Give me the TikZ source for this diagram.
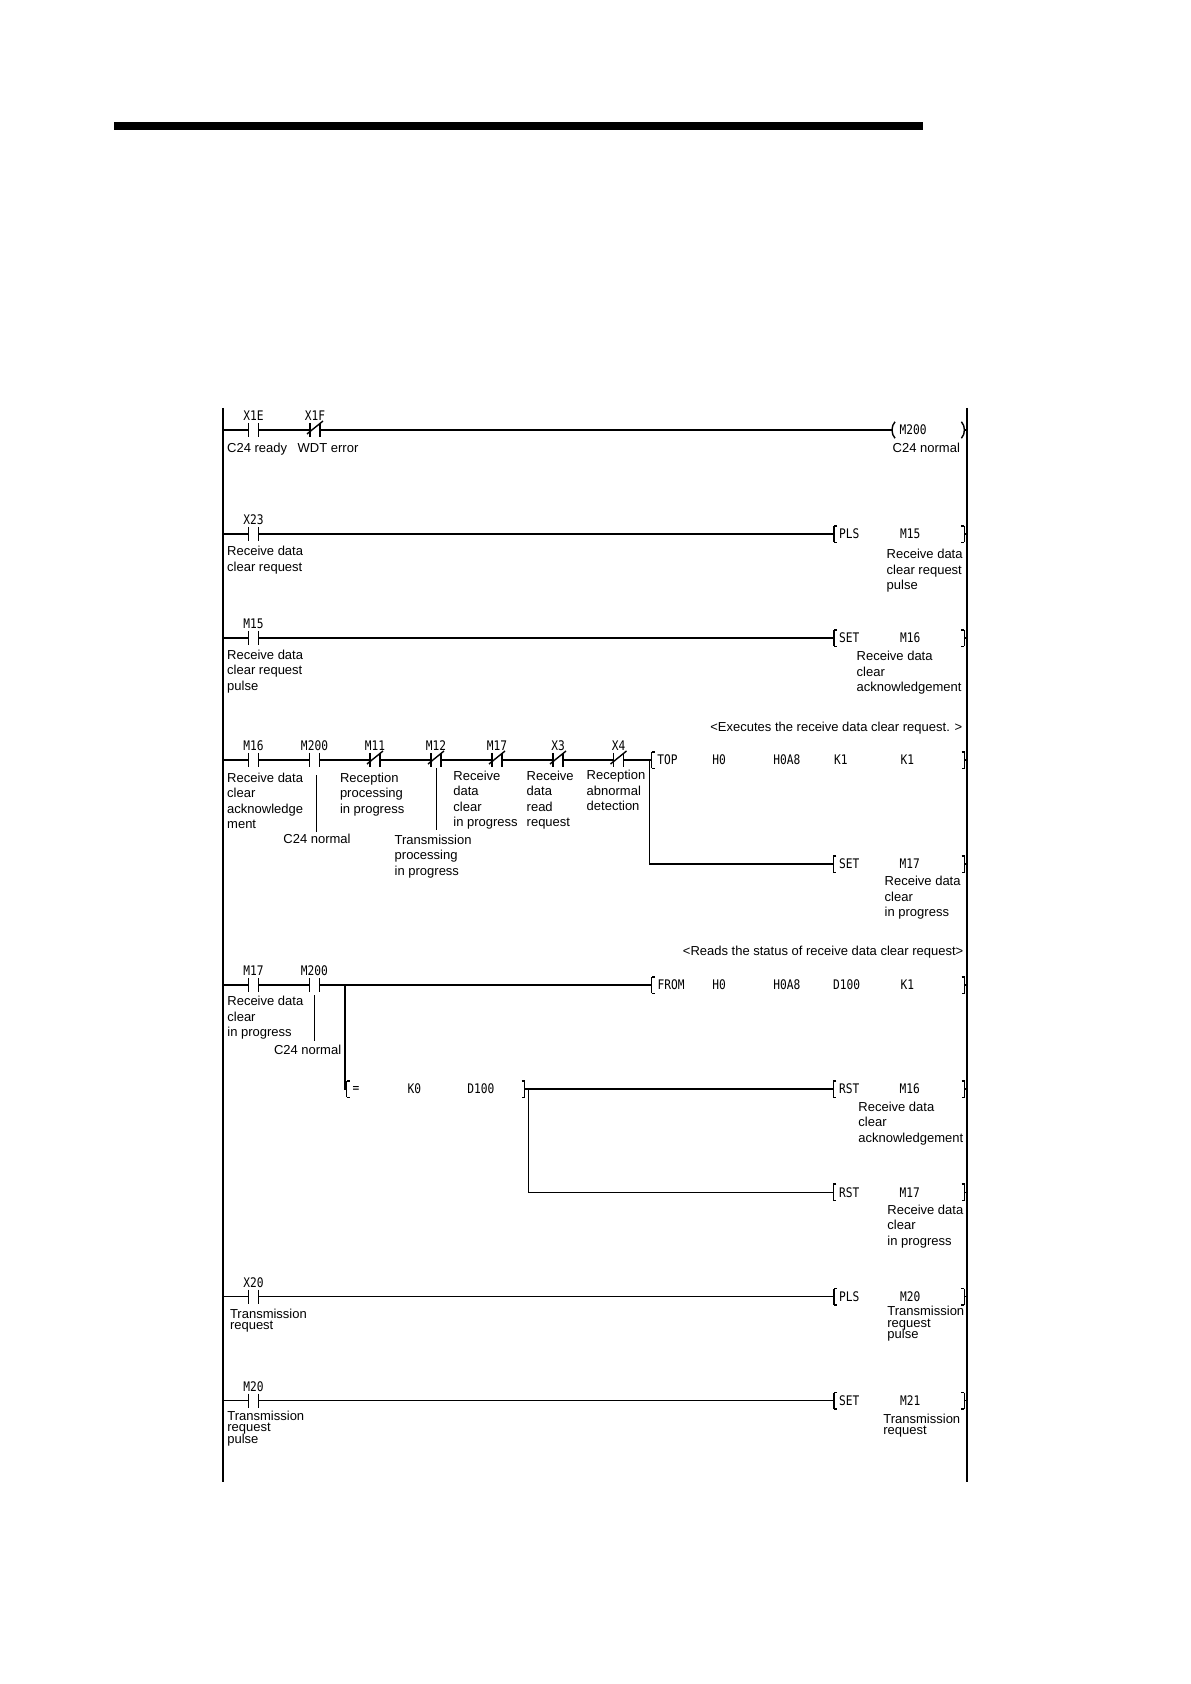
\documentclass[tikz,border=0pt]{standalone}
\usepackage{fontspec}
\setmainfont{Liberation Sans}
\newfontfamily\devfont[FakeStretch=0.85]{DejaVu Sans Mono}
\newcommand\tightlead{\lineskiplimit=-10pt\relax}
\tikzset{nocon/.style={minimum width=4.3pt, minimum height=6.5pt, inner sep=0pt,
		append after command={(\tikzlastnode.north west) edge (\tikzlastnode.south west)
			(\tikzlastnode.north east) edge (\tikzlastnode.south east)}},
	nccon/.style={nocon, append after command={([shift={(-8,4)}]\tikzlastnode.center) edge ([shift={(8,-9)}]\tikzlastnode.center)}},
	instr/.style={minimum height=7.5pt, inner sep=0pt, anchor=west,
		append after command={([shift={(3,0)}]\tikzlastnode.north west) edge (\tikzlastnode.north west)
			(\tikzlastnode.north west) edge (\tikzlastnode.south west)
			(\tikzlastnode.south west) edge ([shift={(3,0)}]\tikzlastnode.south west)
			([shift={(-3,0)}]\tikzlastnode.north east) edge (\tikzlastnode.north east)
			(\tikzlastnode.north east) edge (\tikzlastnode.south east)
			(\tikzlastnode.south east) edge ([shift={(-3,0)}]\tikzlastnode.south east)}},
	coil/.style={minimum height=7.5pt, inner sep=0pt, anchor=west,
		append after command={([shift={(3,0)}]\tikzlastnode.north west) edge[to path={.. controls +(-4,4) and +(-4,-4) .. (\tikztotarget)}] ([shift={(3,0)}]\tikzlastnode.south west)
			([shift={(-3,0)}]\tikzlastnode.north east) edge[to path={.. controls +(4,4) and +(4,-4) .. (\tikztotarget)}] ([shift={(-3,0)}]\tikzlastnode.south east)}},
	dev/.style={font=\devfont\fontsize{6.6}{7}\selectfont, inner sep=0pt, anchor=base},
	op/.style={dev, anchor=west},
	cmt/.style={font=\fontsize{6.5}{7.75}\selectfont, align=left, inner sep=0pt, anchor=north west},
	cmtt/.style={cmt, font=\fontsize{6.5}{5.75}\selectfont\tightlead},
	ptr/.style={line width=0.5pt}}
\begin{document}
\begin{tikzpicture}[x=0.5pt,y=-0.5pt,line width=0.7pt]
\useasboundingbox (0,0) rectangle (1190,1684);
\fill (114,122) rectangle (923,130);
% power rails
\coordinate (lt) at (223,408); \coordinate (lb) at (223,1482);
\coordinate (rt) at (967,408); \coordinate (rb) at (967,1482);
\draw[line width=0.9pt] (lt) -- (lb) (rt) -- (rb);

% C24 normal
\node[nocon] (x1e) at (253.5,430) {};
\node[nccon] (x1f) at (315,430) {};
\node[coil, minimum width=35.5pt] (m200) at (892,430) {};
\draw (x1e -| lt) -- (x1e) -- (x1f) -- (m200) (m200.east) -- (m200 -| rt);
\node[dev] (nx1e) at (253.5,420.5) {X1E};
\node[dev] (nx1f) at (315,420.5) {X1F};
\node[op] (om200) at (899,430) {M200};
\node[cmt] (cx1e) at (226.5,442.6) {C24 ready};
\node[cmt] (cx1f) at (297,442.6) {WDT error};
\node[cmt] (cm200) at (892,442.6) {C24 normal};

% PLS M15
\node[nocon] (x23) at (253.5,534) {};
\node[instr, minimum width=64.4pt] (plsa) at (834,534) {};
\draw (x23 -| lt) -- (x23) -- (plsa) (plsa.east) -- (plsa -| rt);
\node[dev] (nx23) at (253.5,524.5) {X23};
\node[op] (oplsa) at (838.5,534) {PLS};
\node[op] (om15) at (899.3,534) {M15};
\node[cmt] (cx23) at (226.5,545.6) {Receive data\\clear request};
\node[cmt] (cm15) at (886,548.6) {Receive data\\clear request\\pulse};

% SET M16
\node[nocon] (m15) at (253.5,638) {};
\node[instr, minimum width=64.4pt] (seta) at (834,638) {};
\draw (m15 -| lt) -- (m15) -- (seta) (seta.east) -- (seta -| rt);
\node[dev] (nm15) at (253.5,628.5) {M15};
\node[op] (oseta) at (838.5,638) {SET};
\node[op] (om16) at (899.3,638) {M16};
\node[cmt] (cm15b) at (226.5,649.3) {Receive data\\clear request\\pulse};
\node[cmt] (cm16) at (856,650.6) {Receive data\\clear\\acknowledgement};

% TOP / SET M17
\node[cmt, anchor=base east] (note1) at (963,731.5) {<Executes the receive data clear request. >};
\node[nocon] (m16) at (253.5,760) {};
\node[nocon] (m200b) at (314.5,760) {};
\node[nccon] (m11) at (375,760) {};
\node[nccon] (m12) at (436,760) {};
\node[nccon] (m17) at (497,760) {};
\node[nccon] (x3) at (558,760) {};
\node[nccon] (x4) at (618.5,760) {};
\node[instr, minimum width=155.8pt] (topi) at (651.7,760) {};
\coordinate (br4) at (649.3,760);
\node[instr, minimum width=65pt] (setb) at (833.3,864) {};
\draw (m16 -| lt) -- (m16) -- (m200b) -- (m11) -- (m12) -- (m17) -- (x3) -- (x4) -- (topi)
	(topi.east) -- (topi -| rt);
\draw (br4) |- (setb) (setb.east) -- (setb -| rt);
\foreach \n/\t in {m16/M16, m200b/M200, m11/M11, m12/M12, m17/M17, x3/X3, x4/X4}
	\node[dev] (n\n) at ([yshift=4.75pt]\n) {\t};
\node[op] (otop) at (656.7,760) {TOP};
\node[op] (oh0a) at (711.7,760) {H0};
\node[op] (oh0a8a) at (772.7,760) {H0A8};
\node[op] (ok1a) at (833.3,760) {K1};
\node[op] (ok1b) at (900,760) {K1};
\node[op] (osetb) at (838.5,864) {SET};
\node[op] (om17) at (899,864) {M17};
\node[cmt] (cm16b) at (226.5,772.3) {Receive data\\clear\\acknowledge\\ment};
\draw[ptr] (316.7,775) -- (316.7,831.7);
\node[cmt, anchor=base] (cm200b) at (317,843) {C24 normal};
\node[cmt] (cm11) at (339.3,772.3) {Reception\\processing\\in progress};
\draw[ptr] (436.7,768) -- (436.7,830);
\node[cmt] (cm12) at (394,833.9) {Transmission\\processing\\in progress};
\node[cmt] (cm17) at (452.7,769.9) {Receive\\data\\clear\\in progress};
\node[cmt] (cx3) at (526,769.9) {Receive\\data\\read\\request};
\node[cmt] (cx4) at (586,769.6) {Reception\\abnormal\\detection};
\node[cmt] (cm17b) at (884,875.6) {Receive data\\clear\\in progress};

% FROM / compare / RST
\node[cmt, anchor=base east] (note2) at (964,955.7) {<Reads the status of receive data clear request>};
\node[nocon] (m17c) at (253.5,985) {};
\node[nocon] (m200c) at (314.3,985) {};
\node[instr, minimum width=155.8pt] (fromi) at (651.7,985) {};
\coordinate (br5) at (345,985);
\node[instr, minimum width=88.3pt] (cmpi) at (346.7,1089) {};
\node[instr, minimum width=65pt] (rsta) at (833.3,1089) {};
\coordinate (br6) at (528.3,1089);
\node[instr, minimum width=65pt] (rstb) at (833.3,1192.3) {};
\draw (m17c -| lt) -- (m17c) -- (m200c) -- (fromi) (fromi.east) -- (fromi -| rt);
\draw (br5) |- (cmpi) (cmpi) -- (rsta) (rsta.east) -- (rsta -| rt);
\draw (br6) |- (rstb) (rstb.east) -- (rstb -| rt);
\node[dev] (nm17c) at (253.5,975.5) {M17};
\node[dev] (nm200c) at (314.3,975.5) {M200};
\node[op] (ofrom) at (657,985) {FROM};
\node[op] (oh0b) at (711.7,985) {H0};
\node[op] (oh0a8b) at (772.7,985) {H0A8};
\node[op] (od100a) at (832.3,985) {D100};
\node[op] (ok1c) at (900,985) {K1};
\node[op] (oeq) at (352,1089) {=};
\node[op] (ok0) at (407,1089) {K0};
\node[op] (od100b) at (466.7,1089) {D100};
\node[op] (orsta) at (838.5,1089) {RST};
\node[op] (om16b) at (899,1089) {M16};
\node[op] (orstb) at (838.5,1192.3) {RST};
\node[op] (om17b) at (899,1192.3) {M17};
\node[cmt] (cm17c) at (226.7,995.6) {Receive data\\clear\\in progress};
\draw[ptr] (314.3,995) -- (314.3,1041);
\node[cmt, anchor=base west] (cm200c) at (273.3,1054.3) {C24 normal};
\node[cmt] (cm16c) at (857.7,1101.3) {Receive data\\clear\\acknowledgement};
\node[cmt] (cm17d) at (886.7,1203.9) {Receive data\\clear\\in progress};

% PLS M20
\node[nocon] (x20) at (253.5,1296.7) {};
\node[instr, minimum width=64.4pt] (plsb) at (834,1296.7) {};
\draw (x20 -| lt) -- (x20) -- (plsb) (plsb.east) -- (plsb -| rt);
\node[dev] (nx20) at (253.5,1287.2) {X20};
\node[op] (oplsb) at (838.5,1296.7) {PLS};
\node[op] (om20) at (899.3,1296.7) {M20};
\node[cmtt] (cx20) at (229.3,1307.9) {Transmission\\request};
\node[cmtt] (cm20) at (886.7,1305.6) {Transmission\\request\\pulse};

% SET M21
\node[nocon] (m20) at (253.5,1400.7) {};
\node[instr, minimum width=64.4pt] (setc) at (834,1400.7) {};
\draw (m20 -| lt) -- (m20) -- (setc) (setc.east) -- (setc -| rt);
\node[dev] (nm20) at (253.5,1391.2) {M20};
\node[op] (osetc) at (838.5,1400.7) {SET};
\node[op] (om21) at (899.3,1400.7) {M21};
\node[cmtt] (cm20b) at (226.7,1409.9) {Transmission\\request\\pulse};
\node[cmtt] (cm21) at (882.7,1413.3) {Transmission\\request};
\end{tikzpicture}
\end{document}
